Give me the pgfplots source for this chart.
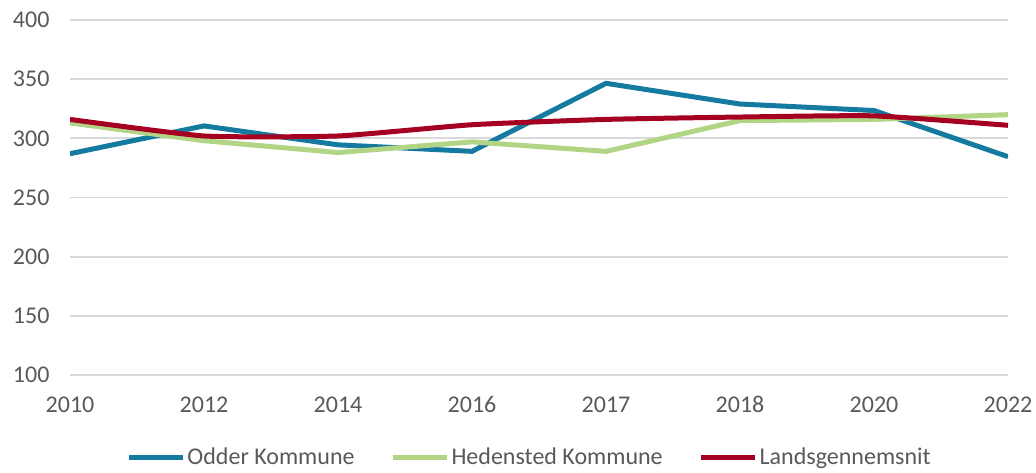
\documentclass[border=0pt]{standalone}
\usepackage{pgfplots}
\pgfplotsset{compat=1.18}
\usepackage{fontspec}
\setmainfont{Carlito}
\definecolor{cblue}{RGB}{21,122,160}
\definecolor{cgreen}{RGB}{178,212,133}
\definecolor{cred}{RGB}{165,0,33}
\definecolor{ctext}{RGB}{89,89,89}
\definecolor{cgrid}{RGB}{217,217,217}
\begin{document}
\begin{tikzpicture}[x=1pt,y=1pt]
\useasboundingbox (0,0) rectangle (1036,472);
\begin{axis}[
  at={(70pt,97pt)}, anchor=south west,
  scale only axis, width=938pt, height=355pt,
  xmin=0, xmax=7, ymin=100, ymax=400,
  xtick={0,...,7},
  xticklabels={2010,2012,2014,2016,2017,2018,2020,2022},
  ytick={100,150,...,400},
  axis line style={draw=none},
  major tick length=0pt,
  ymajorgrids, grid style={cgrid, line width=1.8pt},
  tick label style={font=\fontsize{24}{28}\selectfont, text=ctext},
  /pgf/number format/assume math mode=true,
  yticklabel style={xshift=-17pt},
  xticklabel style={yshift=-18pt},
  legend style={draw=none, at={(0.49,-0.232)}, anchor=center, legend columns=3,
    font=\fontsize{24}{28}\selectfont, text=ctext, inner sep=0pt,
    /tikz/every even column/.append style={column sep=34pt}},
  legend cell align=left,
  legend image code/.code={\draw[#1] (0pt,0pt) -- (54pt,0pt);},
]
\addplot[cblue, line width=5pt] coordinates {(0,287) (1,310.5) (2,294.5) (3,289) (4,346.5) (5,329) (6,323.5) (7,284.5)};
\addlegendentry{Odder Kommune}
\addplot[cgreen, line width=5pt] coordinates {(0,313) (1,298) (2,288) (3,297) (4,289) (5,315) (6,316) (7,320)};
\addlegendentry{Hedensted Kommune}
\addplot[cred, line width=5pt, smooth, tension=0.3] coordinates {(0,316) (1,302) (2,302) (3,311.5) (4,316) (5,318) (6,319) (7,311)};
\addlegendentry{Landsgennemsnit}
\end{axis}
\end{tikzpicture}
\end{document}
